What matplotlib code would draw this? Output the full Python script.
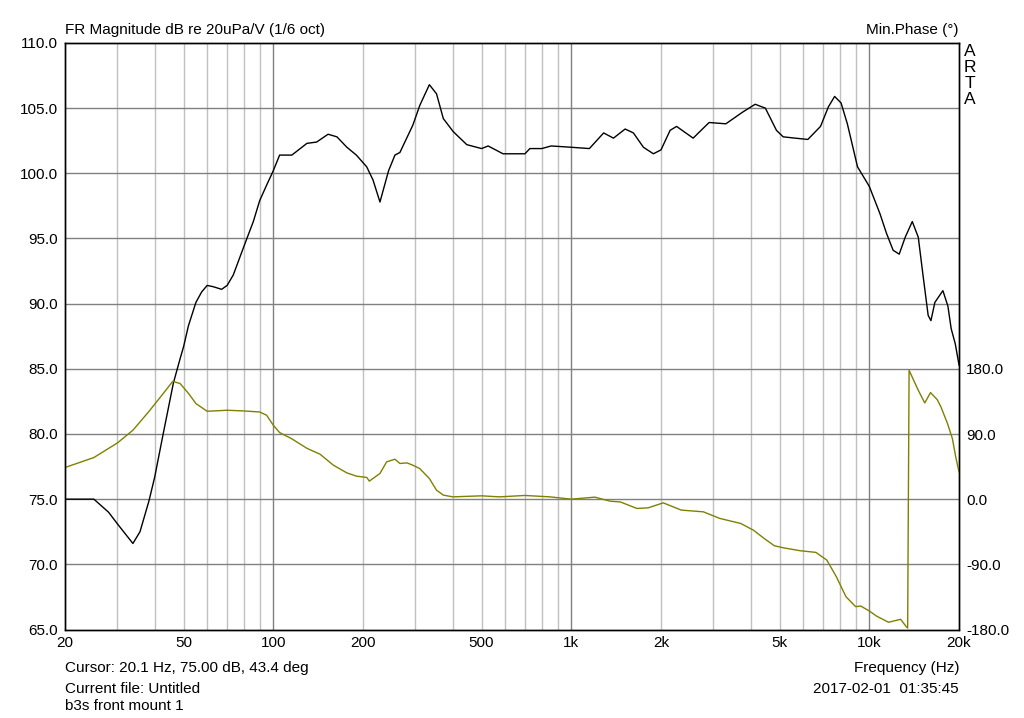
import numpy as np
import matplotlib
matplotlib.use("Agg")
import matplotlib.pyplot as plt
from matplotlib.ticker import FixedLocator, NullFormatter, NullLocator

plt.rcParams['font.family'] = ['Liberation Sans', 'DejaVu Sans']

# Magnitude response (Hz, dB re 20uPa/V)
mag_freq = [20, 25, 28, 30, 33.8, 35.7, 38.3, 40, 42.7, 46.2, 48.7, 50, 51.9, 55,
            57.5, 60, 62.9, 67.1, 70, 73.4, 80, 85.7, 90, 95, 100, 105, 115.4,
            129.7, 139.8, 152.7, 163.5, 176.6, 190, 205.8, 216, 228, 243.7, 256,
            266, 294, 310, 334, 353, 372, 401.6, 446, 500, 526, 590, 699, 726,
            796, 856, 1000, 1150, 1284, 1385, 1516, 1616, 1746, 1886, 2000, 2146,
            2256, 2564, 2900, 3300, 3760, 4140, 4480, 4880, 5140, 5640, 6220,
            6860, 7290, 7650, 8040, 8440, 9130, 10000, 10860, 11420, 12020,
            12600, 13200, 13940, 14600, 15160, 15760, 16100, 16600, 17660,
            18360, 18820, 19440, 20000]
mag_db = [75.0, 75.0, 74.0, 73.1, 71.6, 72.5, 74.9, 76.7, 80.0, 83.9, 85.8, 86.7,
          88.3, 90.1, 90.9, 91.4, 91.3, 91.1, 91.4, 92.2, 94.5, 96.3, 97.9, 99.1,
          100.2, 101.4, 101.4, 102.3, 102.4, 103.0, 102.8, 102.0, 101.4, 100.5,
          99.5, 97.8, 100.2, 101.4, 101.6, 103.7, 105.2, 106.8, 106.1, 104.2,
          103.2, 102.2, 101.9, 102.1, 101.5, 101.5, 101.9, 101.9, 102.1, 102.0,
          101.9, 103.1, 102.7, 103.4, 103.1, 102.0, 101.5, 101.8, 103.3, 103.6,
          102.7, 103.9, 103.8, 104.7, 105.3, 105.0, 103.3, 102.8, 102.7, 102.6,
          103.6, 105.1, 105.9, 105.4, 103.8, 100.5, 99.0, 96.9, 95.4, 94.1,
          93.8, 95.1, 96.3, 95.1, 92.1, 89.1, 88.7, 90.1, 91.0, 89.8, 88.1,
          86.9, 85.3]

# Minimum phase (Hz, degrees, wrapped to +-180)
ph_freq = [20, 25, 30, 33.8, 38.3, 42.7, 46, 48.7, 52, 55, 60, 70, 80, 90, 95,
           100, 105, 115, 130, 143.5, 159, 176.6, 190, 206, 210, 228, 240, 256,
           266, 281, 294, 310, 334, 353, 372, 400, 500, 574, 699, 848, 1000,
           1200, 1350, 1460, 1660, 1810, 2035, 2340, 2775, 3150, 3700, 4080,
           4480, 4800, 5140, 5860, 6620, 7200, 7750, 8350, 9000, 9350, 10000,
           10560, 11600, 12740, 13300, 13450, 13600, 14600, 15350, 16050,
           16900, 17400, 18300, 19000, 19500, 20000]
ph_deg = [43.7, 57.5, 77.7, 95.2, 121.4, 145.8, 162.8, 159.6, 145.8, 132, 121.4,
          122.8, 121.8, 120.4, 115.9, 102.1, 92, 83.7, 70, 62.1, 47, 36.3, 31.8,
          30, 24.9, 35.5, 51.5, 55.2, 49.3, 50.1, 46.9, 42.3, 28.5, 12.4, 5.6,
          3.2, 4.6, 3.2, 5.1, 3.2, 0.0, 2.8, -2.8, -3.8, -12.8, -12.0, -5.1,
          -15.1, -17.5, -26.6, -33.5, -42.7, -55.5, -64.3, -67.1, -71.2, -73.5,
          -84.1, -107, -134.7, -148.5, -147.5, -154.4, -161.3, -170, -165.9,
          -176, -178, 178, 150.4, 132.9, 147.2, 137.5, 127.3, 104.4, 83.8, 58.4,
          37.7]

xticks = [20, 50, 100, 200, 500, 1000, 2000, 5000, 10000, 20000]
xtick_labels = ['20', '50', '100', '200', '500', '1k', '2k', '5k', '10k', '20k']
yticks = np.arange(65, 110.1, 5)
phase_ticks = [-180, -90, 0, 90, 180]

fig = plt.figure(figsize=(10.24, 7.18), dpi=100)
ax = fig.add_axes([65/1024, 1 - 629.5/718, (959 - 65)/1024, (629.5 - 43)/718])

ax.set_xscale('log')
ax.set_xlim(20, 20000)
ax.set_ylim(65, 110)

# grid: decades darker, in-between lines lighter
minor = [f * 10**d for d in range(1, 5) for f in range(2, 10) if 20 < f * 10**d < 20000]
for f in minor:
    ax.axvline(f, color='#c0c0c0', lw=1, zorder=0)
for f in [100, 1000, 10000]:
    ax.axvline(f, color='#808080', lw=1, zorder=0)
for y in yticks[1:-1]:
    ax.axhline(y, color='#808080', lw=1, zorder=0)
ax.axvline(20.05, color='#c8c000', lw=1.2, zorder=1)  # cursor

ax.xaxis.set_major_locator(FixedLocator(xticks))
ax.set_xticklabels(xtick_labels)
ax.xaxis.set_minor_locator(NullLocator())
ax.xaxis.set_minor_formatter(NullFormatter())
ax.set_yticks(yticks)
ax.set_yticklabels(['%.1f' % v for v in yticks])
fs = 11
ax.tick_params(length=0, labelsize=fs, pad=5)

ax.plot(mag_freq, mag_db, color='black', lw=1, zorder=3)

ax2 = ax.twinx()
ax2.set_ylim(-180, 630)
ax2.set_yticks(phase_ticks)
ax2.set_yticklabels(['%.1f' % v for v in phase_ticks])
ax2.tick_params(length=0, labelsize=fs, pad=5)
ax2.plot(ph_freq, ph_deg, color='#808000', lw=1, zorder=2)

for a in (ax, ax2):
    for s in a.spines.values():
        s.set_color('black')
        s.set_linewidth(1)

fig.text(65/1024, 1 - 30/718, 'FR Magnitude dB re 20uPa/V (1/6 oct)', fontsize=fs, va='center')
fig.text(959/1024, 1 - 30/718, 'Min.Phase (°)', fontsize=fs, va='center', ha='right')
for i, ch in enumerate('ARTA'):
    fig.text(970/1024, 1 - (52 + i * 16)/718, ch, fontsize=12.5, va='center', ha='center')
fig.text(65/1024, 1 - 668/718, 'Cursor: 20.1 Hz, 75.00 dB, 43.4 deg', fontsize=fs, va='center')
fig.text(65/1024, 1 - 689/718, 'Current file: Untitled', fontsize=fs, va='center')
fig.text(65/1024, 1 - 706/718, 'b3s front mount 1', fontsize=fs, va='center')
fig.text(959/1024, 1 - 668/718, 'Frequency (Hz)', fontsize=fs, va='center', ha='right')
fig.text(959/1024, 1 - 689/718, '2017-02-01  01:35:45', fontsize=fs, va='center', ha='right')

fig.savefig('out.png', dpi=100)
